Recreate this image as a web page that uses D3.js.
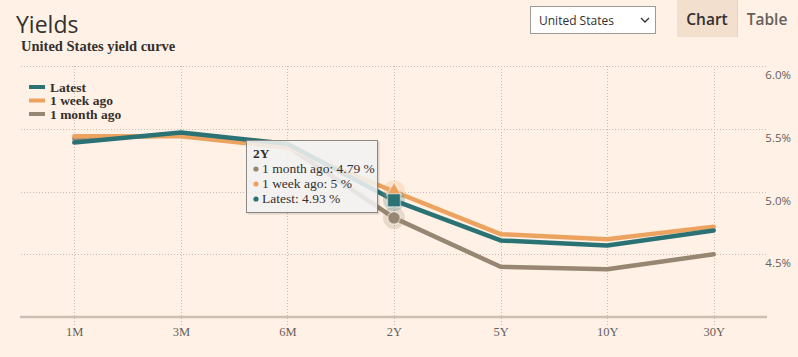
<!DOCTYPE html>
<html>
<head>
<meta charset="utf-8">
<script src="https://cdn.jsdelivr.net/npm/d3@7"></script>
<style>
  html, body { margin: 0; padding: 0; background: #fff1e5; }
  svg { display: block; }
</style>
</head>
<body>
<svg id="chart" width="798" height="357"></svg>
<script>
// ---- data ----
const categories = ["1M", "3M", "6M", "2Y", "5Y", "10Y", "30Y"];
const latest   = [5.39, 5.47, 5.38, 4.93, 4.61, 4.57, 4.69];
const weekAgo  = [5.44, 5.44, 5.35, 5.00, 4.66, 4.62, 4.72];
const monthAgo = [5.42, 5.45, 5.36, 4.79, 4.40, 4.38, 4.50];
const yTicks = [4.5, 5.0, 5.5, 6.0];
const seriesNames = ["Latest", "1 week ago", "1 month ago"];
const hoverCategory = "2Y";

const colors = { "Latest": "#2b7275", "1 week ago": "#eca35f", "1 month ago": "#978671" };
const series = [
  { name: "1 month ago", values: monthAgo, symbol: "circle" },
  { name: "1 week ago", values: weekAgo, symbol: "triangle" },
  { name: "Latest", values: latest, symbol: "square" }
];

const svg = d3.select("#chart");
const W = 798, H = 357;
svg.append("rect").attr("width", W).attr("height", H).attr("fill", "#fff1e5");

const plot = { left: 21, right: 767, top: 66, bottom: 317 };
const x = d3.scalePoint().domain(categories).range([plot.left, plot.right]).padding(0.5);
const y = d3.scaleLinear().domain([4, 6]).range([plot.bottom, plot.top]);

// header
svg.append("text").attr("x", 16).attr("y", 33).text("Yields")
  .attr("font-family", "'Open Sans', sans-serif").attr("font-size", 23).attr("fill", "#33302e");
svg.append("text").attr("x", 21).attr("y", 51).text("United States yield curve")
  .attr("font-family", "'Liberation Serif', serif").attr("font-weight", "bold")
  .attr("font-size", 14.5).attr("fill", "#33302e");

// select box
svg.append("rect").attr("x", 530.5).attr("y", 6.5).attr("width", 125).attr("height", 27)
  .attr("fill", "#ffffff").attr("stroke", "#a09a95");
svg.append("text").attr("x", 539).attr("y", 25).text("United States")
  .attr("font-family", "'Open Sans', sans-serif").attr("font-size", 12).attr("fill", "#33302e");
svg.append("path").attr("d", "M641,18 L645,22 L649,18").attr("fill", "none")
  .attr("stroke", "#33302e").attr("stroke-width", 1.3);

// chart / table buttons
svg.append("rect").attr("x", 677).attr("y", 0).attr("width", 60).attr("height", 37).attr("fill", "#f2dfce");
svg.append("line").attr("x1", 737.5).attr("x2", 737.5).attr("y1", 0).attr("y2", 37).attr("stroke", "#e6d2c0");
svg.append("text").attr("x", 707).attr("y", 25).attr("text-anchor", "middle").text("Chart")
  .attr("font-family", "'Open Sans', sans-serif").attr("font-weight", 600).attr("font-size", 15.5).attr("fill", "#33302e");
svg.append("text").attr("x", 767).attr("y", 25).attr("text-anchor", "middle").text("Table")
  .attr("font-family", "'Open Sans', sans-serif").attr("font-weight", 600).attr("font-size", 15.5).attr("fill", "#66605c");

// grid
const grid = svg.append("g");
grid.selectAll(".hg").data(yTicks).join("line")
  .attr("x1", plot.left).attr("x2", plot.right - 1)
  .attr("y1", d => Math.round(y(d)) + 0.5).attr("y2", d => Math.round(y(d)) + 0.5)
  .attr("stroke", "#c9bcb0").attr("stroke-dasharray", "1,2");
grid.selectAll(".vg").data(categories).join("line")
  .attr("x1", d => Math.round(x(d)) + 0.5).attr("x2", d => Math.round(x(d)) + 0.5)
  .attr("y1", plot.top).attr("y2", plot.bottom + 10)
  .attr("stroke", "#c9bcb0").attr("stroke-dasharray", "1,2");

// y labels
svg.selectAll(".yl").data(yTicks).join("text")
  .attr("x", 791).attr("y", d => y(d) + 13).attr("text-anchor", "end")
  .text(d => d3.format(".1f")(d) + "%")
  .attr("font-family", "'Open Sans', sans-serif").attr("font-size", 11.5).attr("fill", "#66605c");

// x axis
const xAxis = d3.axisBottom(x).tickSize(0).tickPadding(10);
const gx = svg.append("g").attr("transform", `translate(0,${plot.bottom})`).call(xAxis);
gx.select(".domain").remove();
gx.selectAll("text").attr("font-family", "'Liberation Serif', serif").attr("font-size", 12.5).attr("fill", "#66605c");
svg.append("line").attr("x1", 20).attr("x2", 767).attr("y1", plot.bottom).attr("y2", plot.bottom)
  .attr("stroke", "#cdbfb2").attr("stroke-width", 2.5);

// lines
const line = d3.line().x((d, i) => x(categories[i])).y(d => y(d));
series.forEach(s => {
  svg.append("path").datum(s.values).attr("d", line).attr("fill", "none")
    .attr("stroke", colors[s.name]).attr("stroke-width", 4.5)
    .attr("stroke-linejoin", "round").attr("stroke-linecap", "round");
});

// hover markers
const hi = categories.indexOf(hoverCategory);
const hx = x(hoverCategory);
series.forEach(s => {
  const cy = y(s.values[hi]);
  svg.append("circle").attr("cx", hx).attr("cy", cy).attr("r", 11)
    .attr("fill", colors[s.name]).attr("opacity", 0.22);
});
const symMap = { circle: d3.symbolCircle, triangle: d3.symbolTriangle, square: d3.symbolSquare };
const symSize = { circle: 120, triangle: 90, square: 169 };
const symOrder = ["1 week ago", "Latest", "1 month ago"];
symOrder.forEach(n => {
  const s = series.find(t => t.name === n);
  const cy = y(s.values[hi]);
  svg.append("path").attr("d", d3.symbol().type(symMap[s.symbol]).size(symSize[s.symbol])())
    .attr("transform", `translate(${hx},${cy + (s.symbol === "triangle" ? -1 : 0)})`)
    .attr("fill", colors[n]).attr("stroke", "rgba(255,255,255,0.45)").attr("stroke-width", 1.5);
});

// legend
const lg = svg.append("g");
seriesNames.forEach((n, i) => {
  const ly = 87 + i * 13.5;
  lg.append("line").attr("x1", 29).attr("x2", 45).attr("y1", ly).attr("y2", ly)
    .attr("stroke", colors[n]).attr("stroke-width", 4);
  lg.append("text").attr("x", 50).attr("y", ly + 4.5).text(n)
    .attr("font-family", "'Liberation Serif', serif").attr("font-weight", "bold")
    .attr("font-size", 13.5).attr("fill", "#33302e");
});

// tooltip
const tt = svg.append("g").attr("transform", "translate(246,140)");
tt.append("rect").attr("x", 1.5).attr("y", 1.5).attr("width", 132).attr("height", 73)
  .attr("fill", "rgba(0,0,0,0.12)");
tt.append("rect").attr("x", 0.5).attr("y", 0.5).attr("width", 131).attr("height", 72)
  .attr("fill", "rgba(247,247,247,0.86)").attr("stroke", "#8c8782").attr("stroke-width", 1);
tt.append("text").attr("x", 7).attr("y", 18).text(hoverCategory)
  .attr("font-family", "'Liberation Serif', serif").attr("font-weight", "bold").attr("font-size", 13.5).attr("fill", "#33302e");
series.forEach((s, i) => {
  const ty = 33 + i * 15;
  tt.append("circle").attr("cx", 10).attr("cy", ty - 4).attr("r", 2.6).attr("fill", colors[s.name]);
  tt.append("text").attr("x", 16).attr("y", ty)
    .text(`${s.name}: ${s.values[hi]} %`)
    .attr("font-family", "'Liberation Serif', serif").attr("font-size", 13.5).attr("fill", "#33302e");
});
</script>
</body>
</html>
